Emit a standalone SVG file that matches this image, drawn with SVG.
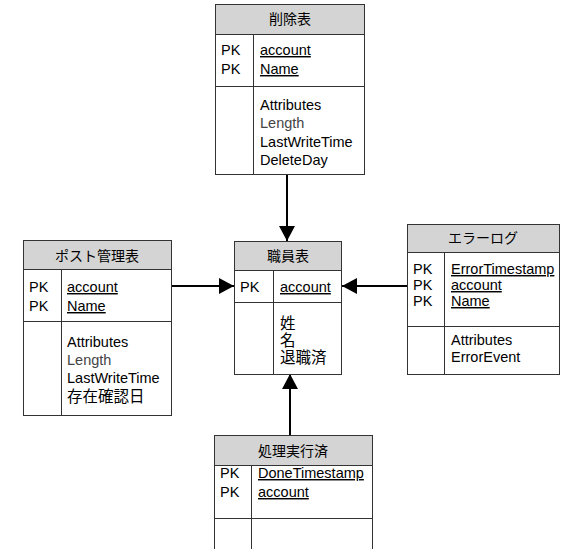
<svg xmlns="http://www.w3.org/2000/svg" width="568" height="549" viewBox="0 0 568 549">
<style>
  text { font-family: "Liberation Sans", "Noto Sans CJK JP", sans-serif; font-size: 14.5px; fill: #000; }
  .box { fill: #fff; stroke: #333; stroke-width: 1; }
  .hdr { fill: #d4d4d4; stroke: #333; stroke-width: 1; }
  .ln { stroke: #333; stroke-width: 1; fill: none; }
  .ttl { text-anchor: middle; font-size: 14px; }
  .jp { font-size: 15.5px; }
  .u { text-decoration: underline; }
  .g { fill: #444; }
  .conn { stroke: #000; stroke-width: 2; fill: none; marker-end: url(#arr); }
</style>
<defs>
  <marker id="arr" markerUnits="userSpaceOnUse" markerWidth="16" markerHeight="16" refX="15" refY="8" orient="auto">
    <path d="M0,0 L15,8 L0,16 z" fill="#000"/>
  </marker>
</defs>
<rect width="568" height="549" fill="#fff"/>

<g id="connectors">
  <line class="conn" x1="287" y1="174" x2="287" y2="241"/>
  <line class="conn" x1="171" y1="286" x2="234" y2="286"/>
  <line class="conn" x1="407" y1="286" x2="342" y2="286"/>
  <line class="conn" x1="290" y1="435" x2="290" y2="374"/>
</g>

<g id="sakujo">
  <rect class="box" x="215.5" y="4.5" width="149" height="170"/>
  <rect class="hdr" x="215.5" y="4.5" width="149" height="30"/>
  <line class="ln" x1="215.5" y1="86.5" x2="364.5" y2="86.5"/>
  <line class="ln" x1="253.5" y1="34.5" x2="253.5" y2="174.5"/>
  <text class="ttl" x="290" y="24">削除表</text>
  <text x="221" y="55">PK</text>
  <text x="221" y="74">PK</text>
  <text class="u" x="260" y="55">account</text>
  <text class="u" x="260" y="74">Name</text>
  <text x="260" y="110">Attributes</text>
  <text class="g" x="260" y="128">Length</text>
  <text x="260" y="147">LastWriteTime</text>
  <text x="260" y="165">DeleteDay</text>
</g>

<g id="shokuin">
  <rect class="box" x="234.5" y="241.5" width="107" height="133"/>
  <rect class="hdr" x="234.5" y="241.5" width="107" height="29"/>
  <line class="ln" x1="234.5" y1="302.5" x2="341.5" y2="302.5"/>
  <line class="ln" x1="273.5" y1="270.5" x2="273.5" y2="374.5"/>
  <text class="ttl" x="288" y="261">職員表</text>
  <text x="240" y="292">PK</text>
  <text class="u" x="280" y="292">account</text>
  <text class="jp" x="280" y="329">姓</text>
  <text class="jp" x="280" y="346">名</text>
  <text class="jp" x="280" y="363">退職済</text>
</g>

<g id="post">
  <rect class="box" x="23.5" y="240.5" width="148" height="175"/>
  <rect class="hdr" x="23.5" y="240.5" width="148" height="29"/>
  <line class="ln" x1="23.5" y1="321.5" x2="171.5" y2="321.5"/>
  <line class="ln" x1="61.5" y1="269.5" x2="61.5" y2="415.5"/>
  <text class="ttl" x="97" y="261">ポスト管理表</text>
  <text x="29" y="292">PK</text>
  <text x="29" y="311">PK</text>
  <text class="u" x="67" y="292">account</text>
  <text class="u" x="67" y="311">Name</text>
  <text x="67" y="347">Attributes</text>
  <text class="g" x="67" y="365">Length</text>
  <text x="67" y="383">LastWriteTime</text>
  <text class="jp" x="67" y="402">存在確認日</text>
</g>

<g id="errorlog">
  <rect class="box" x="407.5" y="224.5" width="152" height="150"/>
  <rect class="hdr" x="407.5" y="224.5" width="152" height="28"/>
  <line class="ln" x1="407.5" y1="326.5" x2="559.5" y2="326.5"/>
  <line class="ln" x1="444.5" y1="252.5" x2="444.5" y2="374.5"/>
  <text class="ttl" x="483" y="243">エラーログ</text>
  <text x="413" y="274">PK</text>
  <text x="413" y="290">PK</text>
  <text x="413" y="306">PK</text>
  <text class="u" x="451" y="274">ErrorTimestamp</text>
  <text class="u" x="451" y="290">account</text>
  <text class="u" x="451" y="306">Name</text>
  <text x="451" y="345">Attributes</text>
  <text x="451" y="362">ErrorEvent</text>
</g>

<g id="shori">
  <rect class="box" x="214.5" y="435.5" width="158" height="130"/>
  <rect class="hdr" x="214.5" y="435.5" width="158" height="30"/>
  <line class="ln" x1="214.5" y1="518.5" x2="372.5" y2="518.5"/>
  <line class="ln" x1="251.5" y1="465.5" x2="251.5" y2="565"/>
  <text class="ttl" x="293" y="456">処理実行済</text>
  <text x="220" y="478">PK</text>
  <text x="220" y="497">PK</text>
  <text class="u" x="258" y="478">DoneTimestamp</text>
  <text class="u" x="258" y="497">account</text>
</g>
</svg>
